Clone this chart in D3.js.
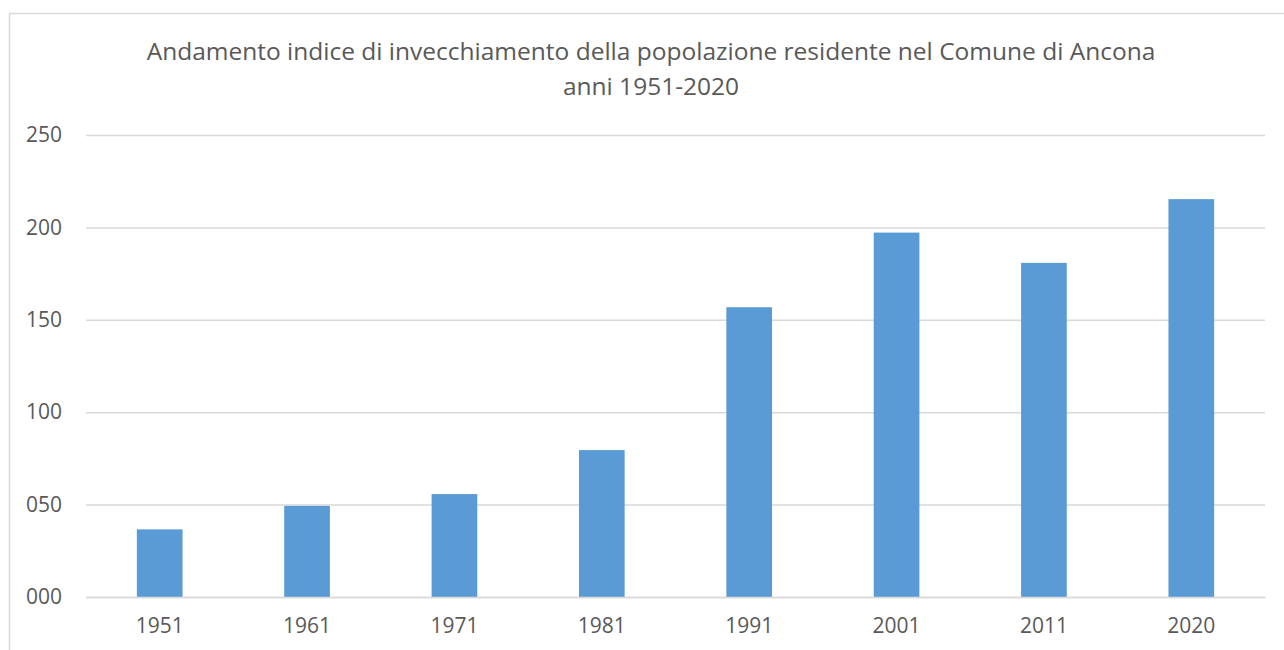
<!DOCTYPE html>
<html>
<head>
<meta charset="utf-8">
<script src="https://cdn.jsdelivr.net/npm/d3@7"></script>
<style>
  body { margin: 0; background: #fff; }
  text { font-family: "Open Sans", "Liberation Sans", sans-serif; fill: #595959; }
</style>
</head>
<body>
<svg width="1284" height="650"></svg>
<script>
var years = ["1951", "1961", "1971", "1981", "1991", "2001", "2011", "2020"];
var indexValues = [36.6, 49.3, 55.7, 79.5, 156.8, 197.2, 180.8, 215.3];
var yTicks = [0, 50, 100, 150, 200, 250];
var titleLines = ["Andamento indice di invecchiamento della popolazione residente nel Comune di Ancona", "anni 1951-2020"];

var svg = d3.select("svg"),
    margin = {top: 135, right: 19, bottom: 53, left: 86},
    width = 1284 - margin.left - margin.right,
    height = 650 - margin.top - margin.bottom;

// chart frame
svg.append("rect")
    .attr("x", 9.5).attr("y", 13.5)
    .attr("width", 1300).attr("height", 700)
    .attr("fill", "none")
    .attr("stroke", "#d9d9d9")
    .attr("stroke-width", 1.5);

svg.selectAll(".title").data(titleLines).enter().append("text")
    .attr("class", "title")
    .attr("x", 651)
    .attr("y", function (d, i) { return 60 + i * 35; })
    .attr("text-anchor", "middle")
    .style("font-size", "24.5px")
    .text(function (d) { return d; });

var g = svg.append("g").attr("transform", "translate(" + margin.left + "," + margin.top + ")");

var x = d3.scaleBand().domain(years).range([0, width]).paddingInner(0.69).paddingOuter(0.345);
var y = d3.scaleLinear().domain([0, 250]).range([height, 0]);

// gridlines + y labels
g.append("g")
    .call(d3.axisLeft(y).tickValues(yTicks).tickSize(-width).tickFormat(d3.format("03d")))
    .call(function (a) {
        a.select(".domain").remove();
        a.selectAll(".tick line").attr("stroke", "#d9d9d9").attr("stroke-width", 1.5);
        a.selectAll(".tick text").attr("x", -24).style("font-size", "21px").attr("fill", "#595959");
    });

g.selectAll(".bar").data(indexValues).enter().append("rect")
    .attr("class", "bar")
    .attr("x", function (d, i) { return x(years[i]); })
    .attr("y", function (d) { return y(d); })
    .attr("width", x.bandwidth())
    .attr("height", function (d) { return height - y(d); })
    .attr("fill", "#5b9bd5");

g.append("g")
    .attr("transform", "translate(0," + height + ")")
    .call(d3.axisBottom(x).tickSize(0).tickPadding(21))
    .call(function (a) {
        a.select(".domain").attr("stroke", "#d9d9d9").attr("stroke-width", 1.5);
        a.selectAll(".tick text").style("font-size", "21px").attr("fill", "#595959");
    });
</script>
</body>
</html>
